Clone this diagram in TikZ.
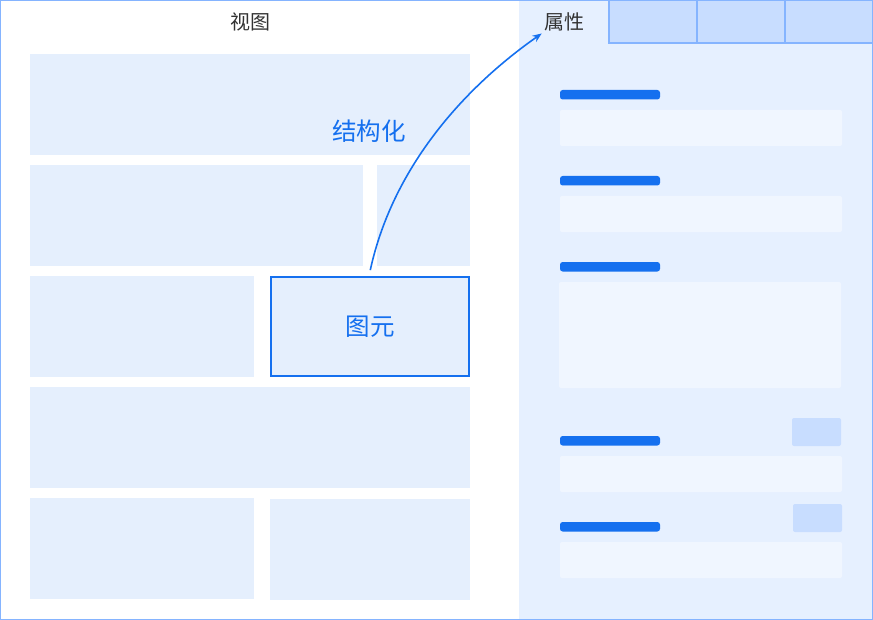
\documentclass[tikz,border=0pt]{standalone}
\usepackage{fontspec}
\newfontfamily\cjk{Noto Sans CJK SC}
\usetikzlibrary{arrows.meta}

\definecolor{frameblue}{HTML}{85B4FF}
\definecolor{blockfill}{HTML}{E5EFFD}
\definecolor{panelfill}{HTML}{E6F0FF}
\definecolor{fieldfill}{HTML}{F0F6FF}
\definecolor{tabfill}{HTML}{C8DDFF}
\definecolor{accent}{HTML}{1570EF}
\definecolor{textgray}{HTML}{333333}

\tikzset{
  block/.style={fill=blockfill},
  field/.style={fill=fieldfill, rounded corners=1.5pt},
  bar/.style={fill=accent, rounded corners=2pt},
  button/.style={fill=tabfill, rounded corners=1.5pt},
  title/.style={font=\cjk\fontsize{15}{18}\selectfont, text=textgray, inner sep=1.5pt},
  tag/.style={font=\cjk\fontsize{18.4}{22}\selectfont, text=accent},
  link/.style={accent, line width=1.2pt, -{Stealth[length=7pt,width=5.5pt]}}
}

\begin{document}
\begin{tikzpicture}[x=0.75pt,y=-0.75pt]
  \useasboundingbox (0,0) rectangle (873,620);

  % Property panel
  \fill[panelfill] (519,0) rectangle (873,620);
  \fill[tabfill] (609,0) rectangle (873,43);
  \draw[frameblue, line width=0.9pt] (609,0) -- (609,43) -- (873,43)
    (697,0) -- (697,43) (785,0) -- (785,43);

  % View blocks
  \fill[block] (30,54) rectangle (470,155);
  \fill[block] (30,165) rectangle (363,266);
  \fill[block] (377,165) rectangle (470,266);
  \fill[block] (30,276) rectangle (254,377);
  \fill[block] (30,387) rectangle (470,488);
  \fill[block] (30,498) rectangle (254,599);
  \fill[block] (270,499) rectangle (470,600);

  % Selected element
  \draw[accent, fill=blockfill, line width=1.5pt] (271,277) rectangle (469,376);
  \node[tag] (elem) at (370,326.5) {图元};
  \coordinate (elemtop) at (369,276);

  % Titles
  \node[title] (view) at (250,22) {视图};
  \node[title] (attr) at (564,22) {属性};
  \node[tag] (struct) at (369,131) {结构化};

  % Property rows
  \foreach \y in {90,176,262,436,522}
    \fill[bar] (560,\y) rectangle (660,\y+9.5);
  \foreach \a/\b in {110/146,196/232,456/492,542/578}
    \fill[field] (560,\a) rectangle (842,\b);
  \fill[field] (559,282) rectangle (841,388);
  \fill[button] (792,418) rectangle (841,446);
  \fill[button] (793,504) rectangle (842,532);

  % Link
  \draw[link, shorten <=4.5pt] (elemtop) .. controls (392,170) and (461,90) .. (attr.south west);

  % Outer frame
  \draw[frameblue, line width=0.9pt] (0.6,0.6) rectangle (872.4,619.4);
\end{tikzpicture}
\end{document}
